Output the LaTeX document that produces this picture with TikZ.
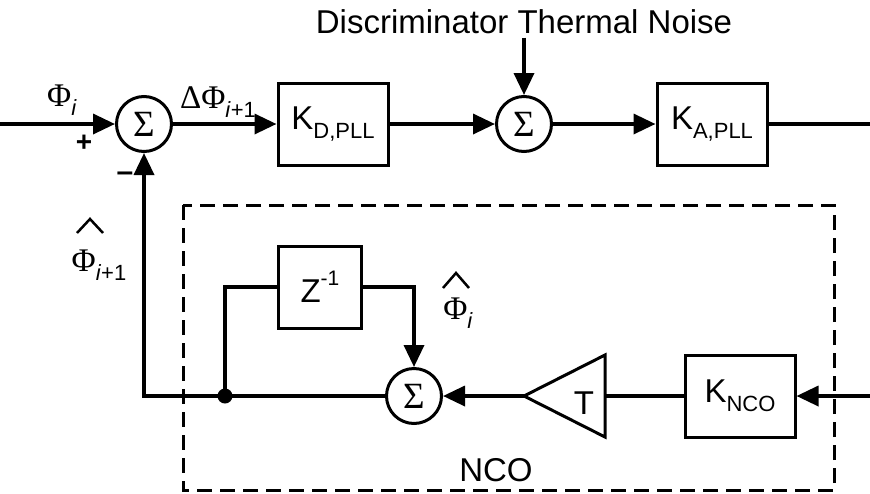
\documentclass[tikz,border=0pt]{standalone}
\usepackage{fontspec}
\setmainfont{Liberation Sans}
\newfontfamily\grk{Liberation Serif}
\usepackage{tikz}
\usetikzlibrary{arrows.meta, positioning}

\newcommand{\lowidx}[1]{\raisebox{-0.28em}{\fontsize{22}{22}\selectfont #1}}
\newcommand{\upidx}[1]{\raisebox{0.5em}{\fontsize{21}{21}\selectfont #1}}

\tikzset{
	sig/.style={line width=3.5pt},
	blk/.style={draw, line width=3pt, minimum width=110pt, minimum height=82pt, inner sep=0pt},
	sumnode/.style={draw, circle, line width=3pt, minimum size=55pt, inner sep=0pt, font=\grk\fontsize{37}{37}\selectfont},
	lbl/.style={inner sep=0pt},
}

\begin{document}
\begin{tikzpicture}[x=1pt, y=-1pt, >={Triangle[length=22pt, width=20pt]}, font=\fontsize{33}{38}\selectfont]
		\useasboundingbox (0,0) rectangle (870,493);

		% Forward path
		\node[sumnode] (sumA) at (144,124) {Σ};
		\node[blk] (kd) at (333,124) {K\lowidx{D,PLL}};
		\node[sumnode] (sumB) at (524,124) {Σ};
		\node[blk] (ka) at (712,124) {K\lowidx{A,PLL}};
		\coordinate (in) at (0,124);
		\coordinate (out) at (870,124);
		\node (noise) at (524,22) {Discriminator Thermal Noise};

		% NCO blocks
		\node[blk, minimum width=83pt] (zinv) at (320,287) {Z\upidx{-1}};
		\node[sumnode] (sumC) at (414,396) {Σ};
		\node[blk] (knco) at (740,396) {K\lowidx{NCO}};
		\node[circle, fill, inner sep=0pt, minimum size=15pt] (dot) at (225,396) {};
		\coordinate (nin) at (870,396);
		\coordinate (tip) at (524,396);
		\coordinate (base) at (605,396);
		\node[lbl] (tlbl) at (584,403) {T};

		% Gain triangle
		\draw[line width=3pt, line join=miter] (605,355) -- (605,437) -- (tip) -- cycle;

		% NCO dashed boundary
		\draw[line width=3pt, dash pattern=on 15pt off 8pt] (183,205) rectangle (834,490);
		\node[lbl] (nco) at (496,470) {NCO};

		% Connectors
		\draw[sig, ->] (in) -- (sumA);
		\draw[sig, ->] (sumA) -- (kd);
		\draw[sig, ->] (kd) -- (sumB);
		\draw[sig, ->] (sumB) -- (ka);
		\draw[sig] (ka) -- (out);
		\draw[sig, ->] (noise) -- (sumB);
		\draw[sig, ->] (nin) -- (knco);
		\draw[sig] (knco) -- (base);
		\draw[sig, ->] (tip) -- (sumC);
		\draw[sig] (sumC) -- (dot.center);
		\draw[sig, ->] (dot.center) -| (sumA);
		\draw[sig] (dot.center) |- (zinv);
		\draw[sig, ->] (zinv) -| (sumC);

		% Signal labels
		\node[lbl] (phiin) at (62,100) {{\grk Φ}\lowidx{\textit{i}}};
		\node[lbl, font=\bfseries\fontsize{28}{28}\selectfont] (plus) at (84,143) {+};
		\node[lbl, font=\bfseries\fontsize{30}{30}\selectfont] (minus) at (125,177) {–};
		\node[lbl] (dphi) at (218,102) {{\grk ΔΦ}\lowidx{\textit{i}+1}};
		\node[lbl] (phifb) at (99,265) {{\grk Φ}\lowidx{\textit{i}+1}};
		\draw[line width=2.5pt] (77,233) -- (90,219) -- (103,233);
		\node[lbl] (phiz) at (458,313) {{\grk Φ}\lowidx{\textit{i}}};
		\draw[line width=2.5pt] (443,288) -- (456,273) -- (469,288);

	\end{tikzpicture}
\end{document}
